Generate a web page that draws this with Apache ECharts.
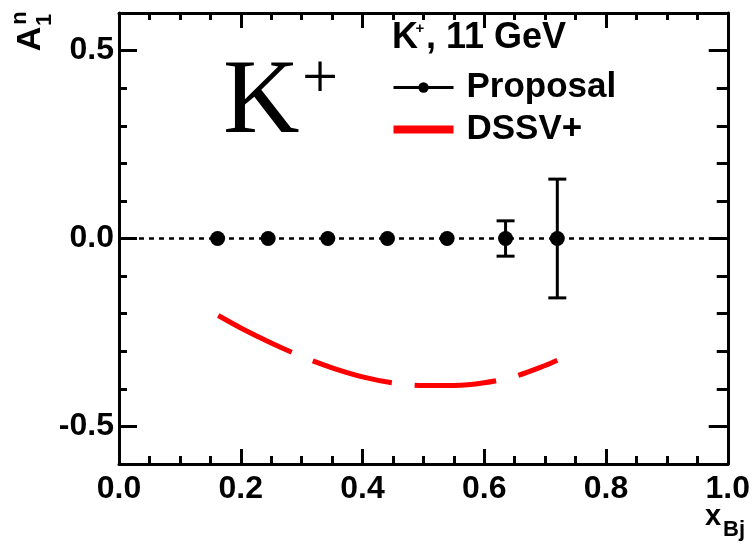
<!DOCTYPE html>
<html>
<head>
<meta charset="utf-8">
<script src="https://cdn.jsdelivr.net/npm/echarts@6/dist/echarts.min.js"></script>
<style>html,body{margin:0;padding:0;background:#fff;}#c{width:753px;height:545px;}</style>
</head>
<body>
<div id="c"></div>
<script>
// Proposal points (x_Bj, A1n, stat. error)
var propX = [0.162, 0.245, 0.343, 0.441, 0.539, 0.635, 0.720];
var propY = [0, 0, 0, 0, 0, 0, 0];
var propErr = [0, 0, 0, 0, 0, 0.047, 0.158];
// DSSV+ curve
var dssvX = [0.163, 0.20, 0.25, 0.30, 0.35, 0.40, 0.45, 0.50, 0.55, 0.60, 0.65, 0.70, 0.72];
var dssvY = [-0.205, -0.238, -0.278, -0.314, -0.344, -0.368, -0.384, -0.391, -0.391, -0.384, -0.367, -0.338, -0.324];
// zero reference line
var zeroX = [0, 1];
var zeroY = [0, 0];
// axis ticks
var yMajor = [-0.5, 0, 0.5];
var yMinor = [-0.6, -0.4, -0.3, -0.2, -0.1, 0.1, 0.2, 0.3, 0.4, 0.6];
var xMin = 0, xMax = 1, xStep = 0.2;
var yMin = -0.6, yMax = 0.6;
var seriesNames = ['Proposal', 'DSSV+'];

var chart = echarts.init(document.getElementById('c'), null, {renderer: 'canvas'});
var SANS = 'Liberation Sans, Arial, sans-serif';
var SERIF = 'Liberation Serif, Times New Roman, serif';
var lab = {fontFamily: SANS, fontWeight: 'bold', fontSize: 32, color: '#000'};
var lineW = 3;

function yAx(pos, vals, len, showLine, showLabel) {
  return {
    type: 'value', position: pos, min: yMin, max: yMax, gridIndex: 0,
    axisLine: {show: showLine, onZero: false, lineStyle: {color: '#000', width: lineW}},
    axisTick: {show: true, inside: true, length: len, customValues: vals, lineStyle: {color: '#000', width: lineW}},
    axisLabel: showLabel ? Object.assign({show: true, margin: 5, customValues: vals, formatter: function (v) { return (+v).toFixed(1); }}, lab) : {show: false},
    splitLine: {show: false}
  };
}
function xAx(pos, majLen, minLen, showLabel) {
  return {
    type: 'value', position: pos, min: xMin, max: xMax, interval: xStep, gridIndex: 0,
    axisLine: {show: true, onZero: false, lineStyle: {color: '#000', width: lineW}},
    axisTick: {show: true, inside: true, length: majLen, lineStyle: {color: '#000', width: lineW}},
    minorTick: {show: true, splitNumber: 4, length: minLen, lineStyle: {color: '#000', width: lineW}},
    axisLabel: showLabel ? Object.assign({show: true, margin: 9, formatter: function (v) { return (+v).toFixed(1); }}, lab) : {show: false},
    splitLine: {show: false}, minorSplitLine: {show: false}
  };
}

var propData = propX.map(function (x, i) { return [x, propY[i], propErr[i]]; });
var dssvData = dssvX.map(function (x, i) { return [x, dssvY[i]]; });
var zeroData = zeroX.map(function (x, i) { return [x, zeroY[i]]; });

function txt(s, x, y, size, opts) {
  opts = opts || {};
  return {type: 'text', x: x, y: y, rotation: opts.rot || 0,
    style: {text: s, fontFamily: opts.family || SANS, fontWeight: opts.weight || 'normal', fontSize: size, fill: '#000',
      textAlign: opts.align || 'left', textVerticalAlign: 'middle'}};
}

var option = {
  animation: false,
  backgroundColor: '#fff',
  grid: {left: 119, right: 25, top: 13, bottom: 81, containLabel: false},
  xAxis: [xAx('bottom', 15, 8, true), xAx('top', 15, 7, false)],
  yAxis: [yAx('left', yMajor, 18, true, true), yAx('left', yMinor, 8, false, false),
          yAx('right', yMajor, 19, true, false), yAx('right', yMinor, 11, false, false)],
  legend: {
    orient: 'vertical', left: 392, top: 70, padding: 0, itemGap: 7, itemWidth: 60, itemHeight: 13,
    textStyle: {fontFamily: SANS, fontWeight: 'bold', fontSize: 35, color: '#000', padding: [0, 0, 0, 8]},
    data: [
      {name: seriesNames[0], lineStyle: {color: '#000', width: 3, opacity: 1, type: 'solid'}, itemStyle: {color: '#000'}},
      {name: seriesNames[1], icon: 'path://M0,0H60V8H0Z', itemStyle: {color: '#ff0000'}}
    ]
  },
  series: [
    {
      type: 'line', name: 'zero', data: zeroData, xAxisIndex: 0, yAxisIndex: 0,
      symbol: 'none', silent: true, z: 1,
      lineStyle: {color: '#000', width: 2.5, type: [5, 5]}
    },
    {
      type: 'line', name: seriesNames[1], data: dssvData, xAxisIndex: 0, yAxisIndex: 0,
      symbol: 'none', showSymbol: false, smooth: 0.3, z: 2,
      itemStyle: {color: '#ff0000'},
      lineStyle: {color: '#ff0000', width: 5, type: [82, 23], cap: 'butt'}
    },
    {
      type: 'custom', name: 'err', data: propData, xAxisIndex: 0, yAxisIndex: 0, z: 3,
      renderItem: function (params, api) {
        var x = api.value(0), y = api.value(1), e = api.value(2);
        if (!(e > 0)) return null;
        var top = api.coord([x, y + e]), bot = api.coord([x, y - e]);
        var hw = 9;
        var st = {stroke: '#000', lineWidth: 3};
        return {type: 'group', children: [
          {type: 'line', shape: {x1: top[0], y1: top[1], x2: bot[0], y2: bot[1]}, style: st},
          {type: 'line', shape: {x1: top[0] - hw, y1: top[1], x2: top[0] + hw, y2: top[1]}, style: st},
          {type: 'line', shape: {x1: bot[0] - hw, y1: bot[1], x2: bot[0] + hw, y2: bot[1]}, style: st}
        ]};
      }
    },
    {
      type: 'line', name: seriesNames[0], data: propData, xAxisIndex: 0, yAxisIndex: 0, z: 4,
      symbol: 'circle', symbolSize: 15, showSymbol: true,
      itemStyle: {color: '#000'},
      lineStyle: {width: 0, opacity: 0}
    }
  ],
  graphic: [
    txt('K', 223, 104, 106, {family: SERIF}),
    txt('+', 320, 81, 64, {family: SERIF, align: 'center'}),
    txt('K', 392, 38, 36, {weight: 'bold'}),
    txt('+', 420, 29, 15, {weight: 'bold', align: 'center'}),
    txt(', 11 GeV', 426, 38, 36, {weight: 'bold'}),
    txt('A', 31, 39, 34, {weight: 'bold', align: 'center', rot: Math.PI / 2}),
    txt('n', 20, 18, 22, {weight: 'bold', align: 'center', rot: Math.PI / 2}),
    txt('1', 45, 20, 22, {weight: 'bold', align: 'center', rot: Math.PI / 2}),
    txt('x', 705, 517, 29, {weight: 'bold'}),
    txt('Bj', 723, 530, 22, {weight: 'bold'})
  ]
};
chart.setOption(option);
</script>
</body>
</html>
